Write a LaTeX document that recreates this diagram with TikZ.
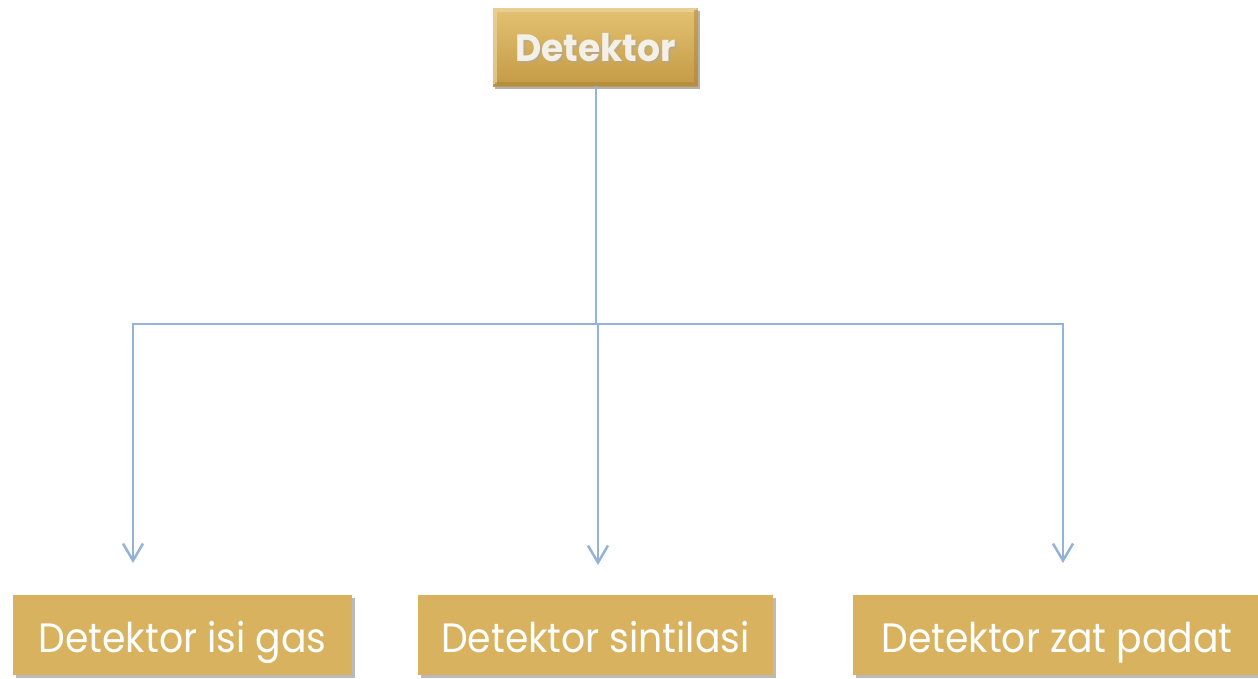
\documentclass[tikz,border=0pt]{standalone}
\usepackage{fontspec}
\usetikzlibrary{arrows.meta,shadows}
\newfontfamily\labelfont[FakeStretch=0.92]{Poppins}
\newfontfamily\headfont[FakeStretch=0.95]{Poppins}
\definecolor{gold}{HTML}{D8B25E}
\definecolor{goldlight}{HTML}{E3C273}
\definecolor{golddark}{HTML}{C49A45}
\definecolor{wire}{HTML}{95B3D7}
\definecolor{headtext}{HTML}{F3F0E8}
\tikzset{
  leaf/.style={fill=gold, draw=none, minimum height=80pt, inner sep=0pt,
    text height=40pt, text depth=6pt,
    font=\labelfont\fontsize{41}{41}\selectfont, text=white,
    drop shadow={shadow xshift=3pt, shadow yshift=-3pt, opacity=0.45, fill=black!60}},
  head/.style={draw=none, minimum width=205pt, minimum height=78pt, inner sep=0pt,
    top color=goldlight, bottom color=golddark,
    drop shadow={shadow xshift=2pt, shadow yshift=-3pt, opacity=0.5, fill=black!60}},
  wireline/.style={draw=wire, line width=2.5pt},
  arr/.style={wireline, -{Straight Barb[length=17pt,width=20pt,line width=2.5pt]}},
}
\begin{document}
\begin{tikzpicture}[x=1pt,y=-1pt]
\useasboundingbox (0,0) rectangle (1258,678);
\clip (0,0) rectangle (1258,678);
\fill[white] (0,0) rectangle (1258,678);

% root box with bevelled edge
\node[head] (root) at (595.5,47) {};
\draw[goldlight!70!white, line width=4pt, opacity=0.7]
  ([xshift=2pt,yshift=2pt]root.south west) -- ([xshift=2pt,yshift=-2pt]root.north west)
  -- ([xshift=-2pt,yshift=-2pt]root.north east);
\draw[golddark!85!black, line width=4pt, opacity=0.5]
  ([xshift=-2pt,yshift=-2pt]root.north east) -- ([xshift=-2pt,yshift=2pt]root.south east)
  -- ([xshift=2pt,yshift=2pt]root.south west);
\node[font=\headfont\bfseries\fontsize{38}{38}\selectfont, text=black!35, opacity=0.5]
  at (597.5,50) {Detektor};
\node[font=\headfont\bfseries\fontsize{38}{38}\selectfont, text=headtext]
  (roottext) at (595.5,48) {Detektor};

% leaf boxes
\node[leaf, minimum width=339pt] (gas) at (182.5,635) {Detektor isi gas};
\node[leaf, minimum width=355pt] (sint) at (595.5,635) {Detektor sintilasi};
\node[leaf, minimum width=408pt] (padat) at (1057,635) {Detektor zat padat};

% junction points and arrow ends
\coordinate (jc) at (596,324);
\coordinate (jl) at (133,324);
\coordinate (jm) at (598,324);
\coordinate (jr) at (1063,324);
\coordinate (el) at (133,563);
\coordinate (em) at (598,565);
\coordinate (er) at (1063,563);

% connectors
\draw[wireline] (root.south -| jc) -- (jc);
\draw[wireline] ([xshift=-1.25pt]jl) -- ([xshift=1.25pt]jr);
\draw[arr] (jl) -- (el);
\draw[arr] (jm) -- (em);
\draw[arr] (jr) -- (er);
\end{tikzpicture}
\end{document}
